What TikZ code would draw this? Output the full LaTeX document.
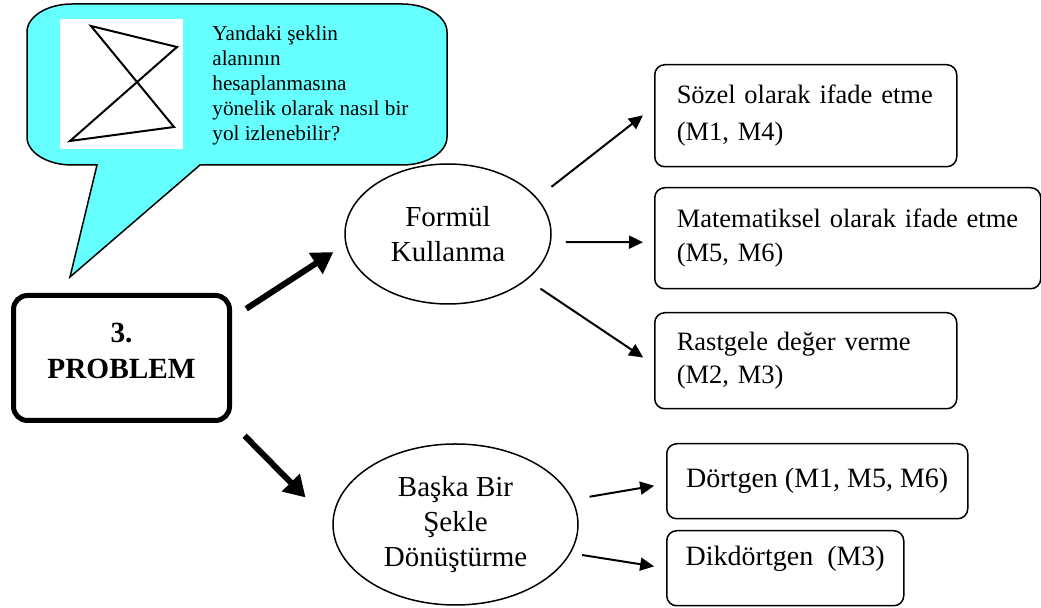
\documentclass[tikz,border=0pt]{standalone}
\usepackage{fontspec}
\setmainfont{Liberation Serif}
\usepackage{tikz}
\usetikzlibrary{shapes.geometric,arrows.meta}
\definecolor{bubblecyan}{RGB}{102,255,255}

\begin{document}
\begin{tikzpicture}[x=0.5pt, y=-0.5pt, box/.style={draw, line width=0.75pt, rounded corners=5pt, align=left, anchor=north west, inner xsep=11pt, inner ysep=0pt}, oval/.style={draw, ellipse, line width=0.75pt, align=center, inner sep=0pt, font=\fontsize{14.5}{17.5}\selectfont}, arr/.style={-{Triangle[length=7pt,width=6.5pt]}, line width=1pt}, bigarr/.style={-{Triangle[length=10.5pt,width=12pt]}, line width=3pt}]
\useasboundingbox (0,0) rectangle (1041,608);
\draw[fill=bubblecyan, line width=0.75pt] (97,165) -- (72,165) .. controls (47.2,165) and (27,152.5) .. (27,137) -- (27,32) .. controls (27,16.5) and (47.2,4) .. (72,4) -- (402,4) .. controls (426.8,4) and (447,16.5) .. (447,32) -- (447,137) .. controls (447,152.5) and (426.8,165) .. (402,165) -- (200,165) -- (70,277) -- cycle;
\fill[white] (60,19) rectangle (183,149);
\draw[line width=1pt, line join=miter] (91,26) -- (177,47) -- (70,141) -- (174,127) -- cycle;
\node[anchor=north west, inner sep=0pt, align=left, font=\fontsize{10.6}{12.5}\selectfont] (soru) at (212,25) {Yandaki şeklin\\alanının\\hesaplanmasına\\yönelik olarak nasıl bir\\yol izlenebilir?};

\node[draw, line width=2.5pt, rounded corners=7pt, align=center, minimum width=108pt, minimum height=62.5pt, text depth=7pt, font=\bfseries\fontsize{14.65}{18}\selectfont] (prob) at (121.5,358) {3.\\PROBLEM};
\node[oval, minimum width=103pt, minimum height=70pt] (form) at (448,234) {Formül\\Kullanma};
\node[oval, minimum width=122.5pt, minimum height=80.5pt] (baske) at (455.5,524.5) {Başka Bir\\Şekle\\Dönüştürme};

\node[box, text width=129pt, minimum height=51pt, font=\fontsize{13.25}{18.5}\selectfont] (soz) at (654,64) {Sözel olarak ifade etme\\(M1, M4)};
\node[box, text width=171pt, minimum height=50.5pt, font=\fontsize{13.25}{17}\selectfont] (mat) at (654,187) {Matematiksel olarak ifade etme\\(M5, M6)};
\node[box, text width=129pt, minimum height=48pt, font=\fontsize{13.25}{16.5}\selectfont] (ras) at (654,312) {Rastgele değer verme\\(M2, M3)};
\node[box, inner xsep=0pt, minimum width=150.5pt, minimum height=37.5pt, font=\fontsize{14}{17}\selectfont] (dort) at (666,443) {Dörtgen (M1, M5, M6)};
\node[box, inner xsep=0pt, minimum width=118.5pt, minimum height=37.5pt, text depth=12.5pt, font=\fontsize{14}{17}\selectfont] (dik) at (666,530) {Dikdörtgen\ \ (M3)};

\draw[bigarr, shorten <=8.5pt, shorten >=6.5pt] ([yshift=20pt]prob.east) -- ([yshift=-5.5pt]form.west);
\draw[bigarr, shorten <=9pt, shorten >=19pt] (prob.south east) -- (baske.west);
\draw[arr, shorten <=9pt, shorten >=7pt] (form.22) -- ([yshift=4.5pt]soz.west);
\draw[arr, shorten <=7pt, shorten >=5.5pt] ([yshift=-4pt]form.east) -- ([yshift=-2pt]mat.west);
\draw[arr, shorten <=8pt, shorten >=6.5pt] (form.330) -- ([yshift=-2pt]ras.west);
\draw[arr, shorten <=8.5pt, shorten >=6pt] (baske.12) -- ([yshift=-1.25pt]dort.west);
\draw[arr, shorten <=5.75pt, shorten >=6pt] (baske.346) -- (dik.west);
\end{tikzpicture}
\end{document}
